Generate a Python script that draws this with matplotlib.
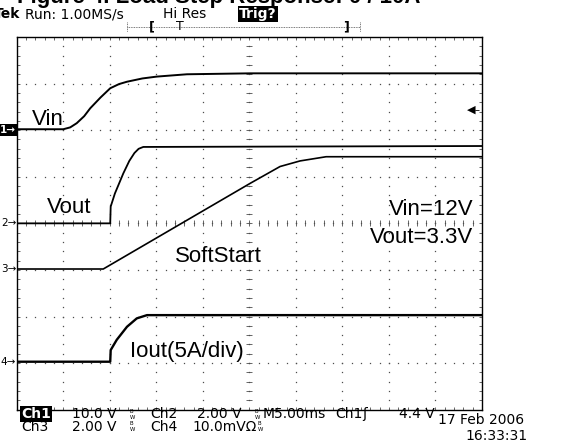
import numpy as np
import matplotlib.pyplot as plt
from matplotlib.lines import Line2D

# scope screen: 10 x 8 divisions, traces (in divisions)
vin_t = [0.0, 1.0, 1.15, 1.29, 1.45, 1.58, 1.8, 2.01, 2.2, 2.37, 2.7, 3.01, 3.66, 5.02, 10.0]
vin_v = [2.02, 2.02, 2.06, 2.15, 2.30, 2.47, 2.70, 2.90, 2.99, 3.04, 3.11, 3.15, 3.20, 3.22, 3.22]

vout_t = [0.0, 2.01, 2.02, 2.11, 2.29, 2.42, 2.53, 2.62, 2.72, 10.0]
vout_v = [0.0, 0.0, 0.36, 0.64, 1.07, 1.34, 1.51, 1.60, 1.64, 1.66]

ss_t = [0.0, 1.86, 5.02, 5.66, 6.09, 6.65, 10.0]
ss_v = [-0.98, -0.98, 0.86, 1.22, 1.34, 1.43, 1.43]

iout_t = [0.0, 2.01, 2.02, 2.15, 2.37, 2.58, 2.80, 10.0]
iout_v = [-2.97, -2.97, -2.72, -2.50, -2.22, -2.04, -1.97, -1.97]

ch_levels = [2.0, 0.0, -0.98, -2.97]   # ground markers 1..4
trig_level = 2.44

W, H = 586, 442
def fx(x): return x / W
def fy(y): return 1 - y / H

fig = plt.figure(figsize=(5.86, 4.42), dpi=100)
ax = fig.add_axes([fx(16.7), fy(409.7), 465.3 / W, 372.7 / H])
ax.set_xlim(0, 10)
ax.set_ylim(-4, 4)

# graticule
minor = np.arange(0, 10.01, 0.2)
minor_y = np.arange(-4, 4.01, 0.2)
for gx in range(1, 10):
    ax.plot(np.full_like(minor_y, gx), minor_y, ls='none', marker='s', ms=0.9, color='0.3', mew=0)
for gy in range(-3, 4):
    ax.plot(minor, np.full_like(minor, gy), ls='none', marker='s', ms=0.9, color='0.3', mew=0)
ax.plot(np.full_like(minor_y, 5), minor_y, ls='none', marker='_', ms=4, color='0.3', mew=0.6)
ax.plot(minor, np.zeros_like(minor), ls='none', marker='|', ms=4, color='0.3', mew=0.6)
ax.set_xticks(range(0, 11))
ax.set_yticks(range(-4, 5))
ax.set_xticks(minor, minor=True)
ax.set_yticks(minor_y, minor=True)
ax.tick_params(which='both', direction='in', length=2.5, width=0.6, color='0.3',
               top=True, right=True, labelleft=False, labelbottom=False)
for s in ax.spines.values():
    s.set_linewidth(1.0)

# traces
ax.plot(vin_t, vin_v, color='black', lw=1.4)
ax.plot(vout_t, vout_v, color='black', lw=1.3)
ax.plot(ss_t, ss_v, color='black', lw=1.2)
ax.plot(iout_t, iout_v, color='black', lw=1.7)

lab = dict(family='Liberation Sans', fontsize=16, color='black', va='baseline')
ax.text(0.33, 2.11, 'Vin', ha='left', **lab)
ax.text(0.645, 0.23, 'Vout', ha='left', **lab)
ax.text(3.40, -0.82, 'SoftStart', ha='left', **lab)
ax.text(9.81, 0.18, 'Vin=12V', ha='right', **lab)
ax.text(9.81, -0.42, 'Vout=3.3V', ha='right', **lab)
ax.text(2.43, -2.86, 'Iout(5A/div)', ha='left', **lab)

# trigger level arrow
ax.text(9.99, trig_level, '◀–', ha='right', va='center', fontsize=8, family='DejaVu Sans')

# channel ground markers
for i, lv in enumerate(ch_levels):
    if i == 0:
        ax.text(-0.01, lv, '1→', ha='right', va='center', fontsize=7.5, color='white',
                fontweight='bold', clip_on=False,
                bbox=dict(boxstyle='square,pad=0.1', fc='black', ec='none'))
    else:
        ax.text(-0.01, lv, f'{i + 1}→', ha='right', va='center', fontsize=7.5,
                color='black', clip_on=False)

# header (title of the page is clipped by the screenshot)
fig.text(fx(17), fy(3), 'Figure 4. Load Step Response: 0 / 10A', fontsize=16,
         fontweight='bold', family='Liberation Sans', va='baseline')
mono = dict(family='DejaVu Sans', fontsize=10, va='baseline')
fig.text(fx(-6), fy(18), 'Tek', fontweight='bold', **mono)
fig.text(fx(25), fy(18), 'Run: 1.00MS/s', **mono)
fig.text(fx(163), fy(18), 'Hi Res', **mono)
fig.text(fx(239), fy(18), 'Trig?', color='white', fontweight='bold',
         bbox=dict(boxstyle='square,pad=0.1', fc='black', ec='none'), **mono)
# record-length bracket
fig.add_artist(Line2D([fx(127), fx(360)], [fy(27), fy(27)], lw=0.6, ls=(0, (1, 1)), color='0.3'))
fig.add_artist(Line2D([fx(127), fx(127)], [fy(22), fy(32)], lw=0.6, ls=(0, (1, 1)), color='0.3'))
fig.add_artist(Line2D([fx(360), fx(360)], [fy(22), fy(32)], lw=0.6, ls=(0, (1, 1)), color='0.3'))
fig.text(fx(152), fy(27), '[', ha='center', va='center', fontsize=9, fontweight='bold')
fig.text(fx(180), fy(27), 'T', ha='center', va='center', fontsize=9)
fig.text(fx(346), fy(27), ']', ha='center', va='center', fontsize=9, fontweight='bold')

# footer
bw = r'$^{\rm B}_{\rm W}$'
fig.text(fx(21), fy(418), 'Ch1', color='white', fontweight='bold',
         bbox=dict(boxstyle='square,pad=0.1', fc='black', ec='none'), **mono)
fig.text(fx(72), fy(418), '10.0 V', **mono)
fig.text(fx(129), fy(417), bw, family='DejaVu Sans', fontsize=5.5)
fig.text(fx(150), fy(418), 'Ch2', **mono)
fig.text(fx(197), fy(418), '2.00 V', **mono)
fig.text(fx(254), fy(417), bw, family='DejaVu Sans', fontsize=5.5)
fig.text(fx(263), fy(418), 'M5.00ms', **mono)
fig.text(fx(335), fy(418), 'Ch1', **mono)
fig.text(fx(362), fy(418), 'ʃ', **mono)
fig.text(fx(399), fy(418), '4.4 V', **mono)
fig.text(fx(21), fy(431), 'Ch3', **mono)
fig.text(fx(72), fy(431), '2.00 V', **mono)
fig.text(fx(129), fy(430), bw, family='DejaVu Sans', fontsize=5.5)
fig.text(fx(150), fy(431), 'Ch4', **mono)
fig.text(fx(192), fy(431), '10.0mVΩ', **mono)
fig.text(fx(257), fy(430), bw, family='DejaVu Sans', fontsize=5.5)
fig.text(fx(438), fy(424), '17 Feb 2006', **mono)
fig.text(fx(465), fy(440), '16:33:31', **mono)

fig.savefig('out.png', dpi=100)
